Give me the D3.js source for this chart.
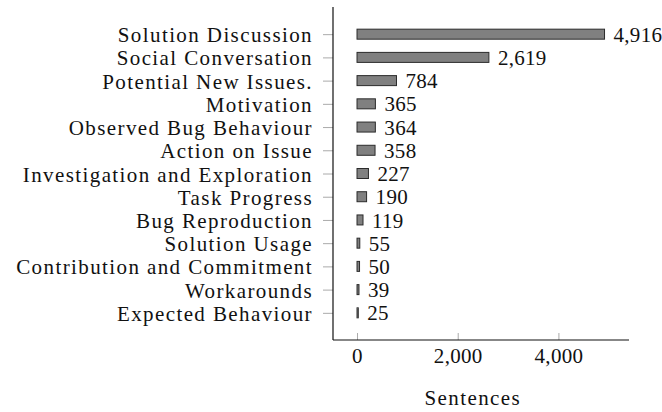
<!DOCTYPE html>
<html>
<head>
<meta charset="utf-8">
<script src="https://cdn.jsdelivr.net/npm/d3@7"></script>
<style>
  body { margin: 0; background: #fff; }
  text { font-family: "Liberation Serif", "DejaVu Serif", serif; fill: #111; }
</style>
</head>
<body>
<div id="chart"></div>
<script>
// categories, top to bottom
const categories = [
    "Solution Discussion",
    "Social Conversation",
    "Potential New Issues.",
    "Motivation",
    "Observed Bug Behaviour",
    "Action on Issue",
    "Investigation and Exploration",
    "Task Progress",
    "Bug Reproduction",
    "Solution Usage",
    "Contribution and Commitment",
    "Workarounds",
    "Expected Behaviour"
];
const sentences = [4916, 2619, 784, 365, 364, 358, 227, 190, 119, 55, 50, 39, 25];
const xTicks = [0, 2000, 4000];
const xLabel = "Sentences";

const width = 662, height = 412;
const margin = {top: 7, right: 33, bottom: 72, left: 333};
const fontSize = 21;
const wordSpacing = "1.4px";   // libertine-ish width with liberation glyphs
const numSpacing = "0.3px";

const svg = d3.select("#chart").append("svg")
    .attr("width", width)
    .attr("height", height);

const xScale = d3.scaleLinear()
    .domain([-477, 5402])
    .range([margin.left, width - margin.right]);

const yScale = d3.scalePoint()
    .domain(categories)
    .range([margin.top, height - margin.bottom])
    .padding(1.17);

const barH = 10;
const data = categories.map((c, i) => ({cat: c, val: sentences[i]}));

// bars
svg.append("g").selectAll("rect")
    .data(data)
    .join("rect")
    .attr("x", xScale(0))
    .attr("y", d => yScale(d.cat) - barH / 2)
    .attr("width", d => xScale(d.val) - xScale(0))
    .attr("height", barH)
    .attr("fill", "#808080")
    .attr("stroke", "#2b2b2b")
    .attr("stroke-width", 1);

// value labels
svg.append("g").selectAll("text")
    .data(data)
    .join("text")
    .attr("x", d => xScale(d.val) + 9)
    .attr("y", d => yScale(d.cat))
    .attr("dy", "0.36em")
    .style("font-size", fontSize + "px")
    .style("letter-spacing", numSpacing)
    .text(d => d3.format(",")(d.val));

// y axis
const yAxisG = svg.append("g")
    .attr("transform", "translate(" + margin.left + ",0)")
    .call(d3.axisLeft(yScale).tickSize(10).tickPadding(10));
yAxisG.select(".domain").remove();
yAxisG.selectAll(".tick line").attr("stroke", "#aaa");
yAxisG.selectAll(".tick text")
    .attr("dy", "0.36em")
    .style("font-size", fontSize + "px")
    .style("letter-spacing", wordSpacing)
    .style("font-family", null);

// x axis, ticks point inward
const xAxisG = svg.append("g")
    .attr("transform", "translate(0," + (height - margin.bottom) + ")")
    .call(d3.axisBottom(xScale).tickValues(xTicks).tickSize(-7).tickFormat(d3.format(",")));
xAxisG.select(".domain").remove();
xAxisG.selectAll(".tick line").attr("stroke", "#aaa");
xAxisG.selectAll(".tick text")
    .attr("y", 23)
    .attr("dy", 0)
    .style("font-size", fontSize + "px")
    .style("letter-spacing", numSpacing)
    .style("font-family", null);

// axis lines
svg.append("line")
    .attr("x1", margin.left).attr("x2", margin.left)
    .attr("y1", margin.top).attr("y2", height - margin.bottom)
    .attr("stroke", "#111").attr("stroke-width", 1.2);
svg.append("line")
    .attr("x1", margin.left).attr("x2", width - margin.right)
    .attr("y1", height - margin.bottom).attr("y2", height - margin.bottom)
    .attr("stroke", "#111").attr("stroke-width", 1.2);

svg.append("text")
    .attr("x", xScale(2300))
    .attr("y", 405)
    .attr("text-anchor", "middle")
    .style("font-size", fontSize + "px")
    .style("letter-spacing", wordSpacing)
    .text(xLabel);
</script>
</body>
</html>
